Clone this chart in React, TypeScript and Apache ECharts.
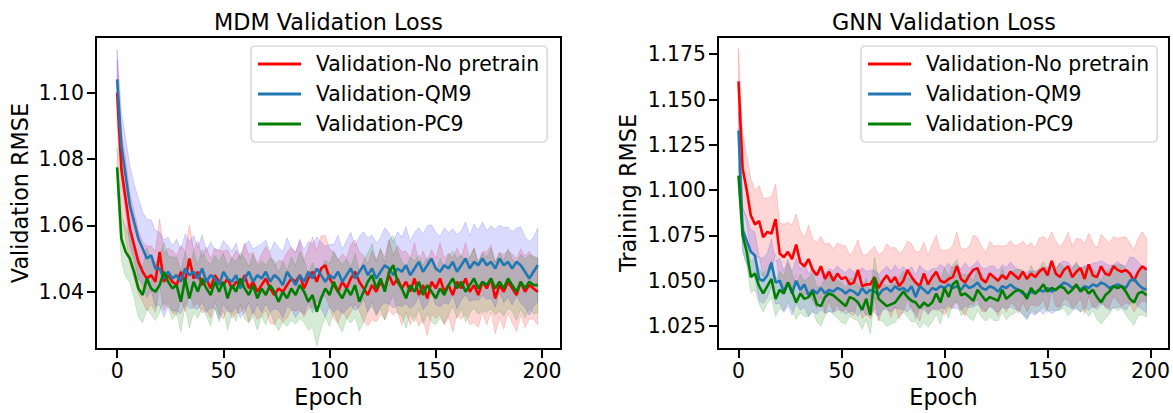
import React, { useEffect, useRef } from "react";
import * as echarts from "echarts";

const EPOCHS = [
  0, 2, 4, 6, 8, 10, 12, 14, 16, 18, 20, 22, 24, 26, 28, 30, 32, 34, 36, 38,
  40, 42, 44, 46, 48, 50, 52, 54, 56, 58, 60, 62, 64, 66, 68, 70, 72, 74, 76, 78,
  80, 82, 84, 86, 88, 90, 92, 94, 96, 98, 100, 102, 104, 106, 108, 110, 112, 114, 116, 118,
  120, 122, 124, 126, 128, 130, 132, 134, 136, 138, 140, 142, 144, 146, 148, 150, 152, 154, 156, 158,
  160, 162, 164, 166, 168, 170, 172, 174, 176, 178, 180, 182, 184, 186, 188, 190, 192, 194, 196, 198,
];

const MDM_RED = [
  1.100, 1.077, 1.068, 1.059, 1.054, 1.049, 1.046, 1.044, 1.045, 1.043,
  1.052, 1.043, 1.045, 1.043, 1.042, 1.046, 1.043, 1.050, 1.044, 1.046,
  1.042, 1.044, 1.041, 1.045, 1.043, 1.042, 1.044, 1.041, 1.043, 1.042,
  1.045, 1.041, 1.043, 1.040, 1.042, 1.044, 1.041, 1.039, 1.041, 1.040,
  1.042, 1.044, 1.043, 1.045, 1.041, 1.044, 1.046, 1.043, 1.047, 1.048,
  1.044, 1.042, 1.040, 1.043, 1.041, 1.044, 1.046, 1.043, 1.041, 1.039,
  1.042, 1.040, 1.043, 1.041, 1.045, 1.042, 1.044, 1.041, 1.043, 1.040,
  1.044, 1.039, 1.042, 1.038, 1.043, 1.041, 1.044, 1.040, 1.042, 1.039,
  1.043, 1.041, 1.044, 1.040, 1.042, 1.039, 1.043, 1.041, 1.044, 1.038,
  1.042, 1.040, 1.043, 1.041, 1.039, 1.043, 1.040, 1.042, 1.041, 1.040,
];
const MDM_BLUE = [
  1.104, 1.084, 1.075, 1.066, 1.061, 1.056, 1.053, 1.050, 1.051, 1.047,
  1.047, 1.044, 1.046, 1.044, 1.045, 1.043, 1.047, 1.045, 1.046, 1.044,
  1.047, 1.043, 1.045, 1.044, 1.042, 1.046, 1.044, 1.043, 1.045, 1.041,
  1.044, 1.046, 1.043, 1.045, 1.044, 1.046, 1.043, 1.045, 1.044, 1.042,
  1.046, 1.044, 1.042, 1.045, 1.043, 1.046, 1.044, 1.047, 1.045, 1.043,
  1.045, 1.044, 1.046, 1.043, 1.045, 1.047, 1.044, 1.046, 1.048, 1.045,
  1.047, 1.044, 1.046, 1.048, 1.047, 1.045, 1.047, 1.046, 1.048, 1.045,
  1.047, 1.049, 1.046, 1.048, 1.050, 1.047, 1.046, 1.048, 1.047, 1.049,
  1.046, 1.048, 1.050, 1.047, 1.049, 1.048, 1.050, 1.048, 1.049, 1.047,
  1.050, 1.048, 1.049, 1.047, 1.049, 1.048, 1.046, 1.044, 1.046, 1.048,
];
const MDM_GREEN = [
  1.0775, 1.056, 1.052, 1.050, 1.046, 1.041, 1.039, 1.044, 1.041, 1.040,
  1.042, 1.046, 1.043, 1.041, 1.042, 1.037, 1.044, 1.038, 1.043, 1.040,
  1.044, 1.041, 1.039, 1.043, 1.040, 1.043, 1.038, 1.042, 1.040, 1.044,
  1.041, 1.039, 1.042, 1.038, 1.041, 1.039, 1.042, 1.040, 1.037, 1.040,
  1.038, 1.041, 1.039, 1.042, 1.040, 1.037, 1.039, 1.034, 1.038, 1.041,
  1.039, 1.043, 1.040, 1.038, 1.041, 1.039, 1.042, 1.037, 1.040, 1.043,
  1.045, 1.041, 1.044, 1.040, 1.046, 1.048, 1.043, 1.041, 1.038, 1.042,
  1.040, 1.043, 1.039, 1.042, 1.040, 1.038, 1.041, 1.039, 1.042, 1.044,
  1.041, 1.043, 1.040, 1.042, 1.044, 1.041, 1.043, 1.042, 1.044, 1.041,
  1.043, 1.041, 1.044, 1.042, 1.040, 1.043, 1.041, 1.043, 1.042, 1.042,
];
const MDM_RED_SD = [
  0.0100, 0.0115, 0.0120, 0.0108, 0.0100, 0.0095, 0.0090, 0.0098, 0.0088, 0.0092,
  0.0100, 0.0087, 0.0082, 0.0094, 0.0089, 0.0080, 0.0091, 0.0102, 0.0085, 0.0093,
  0.0084, 0.0095, 0.0089, 0.0081, 0.0096, 0.0102, 0.0086, 0.0090, 0.0094, 0.0083,
  0.0097, 0.0101, 0.0088, 0.0084, 0.0093, 0.0096, 0.0104, 0.0089, 0.0085, 0.0092,
  0.0099, 0.0094, 0.0088, 0.0103, 0.0086, 0.0091, 0.0105, 0.0093, 0.0098, 0.0090,
  0.0087, 0.0101, 0.0095, 0.0084, 0.0092, 0.0103, 0.0096, 0.0089, 0.0100, 0.0093,
  0.0104, 0.0091, 0.0098, 0.0094, 0.0106, 0.0090, 0.0099, 0.0110, 0.0092, 0.0101,
  0.0108, 0.0094, 0.0103, 0.0112, 0.0097, 0.0091, 0.0109, 0.0100, 0.0096, 0.0111,
  0.0102, 0.0093, 0.0108, 0.0099, 0.0113, 0.0097, 0.0092, 0.0110, 0.0101, 0.0107,
  0.0098, 0.0112, 0.0094, 0.0104, 0.0110, 0.0099, 0.0108, 0.0102, 0.0093, 0.0100,
];
const MDM_BLUE_SD = [
  0.0090, 0.0100, 0.0112, 0.0120, 0.0114, 0.0121, 0.0110, 0.0118, 0.0107, 0.0115,
  0.0109, 0.0117, 0.0104, 0.0098, 0.0108, 0.0096, 0.0105, 0.0100, 0.0109, 0.0093,
  0.0101, 0.0092, 0.0099, 0.0088, 0.0103, 0.0094, 0.0100, 0.0091, 0.0097, 0.0089,
  0.0102, 0.0093, 0.0099, 0.0087, 0.0104, 0.0096, 0.0090, 0.0101, 0.0094, 0.0099,
  0.0103, 0.0092, 0.0098, 0.0108, 0.0097, 0.0091, 0.0104, 0.0095, 0.0100, 0.0106,
  0.0093, 0.0102, 0.0110, 0.0098, 0.0104, 0.0109, 0.0097, 0.0106, 0.0101, 0.0112,
  0.0100, 0.0108, 0.0103, 0.0113, 0.0107, 0.0099, 0.0111, 0.0104, 0.0115, 0.0101,
  0.0109, 0.0103, 0.0114, 0.0118, 0.0102, 0.0110, 0.0105, 0.0113, 0.0108, 0.0100,
  0.0112, 0.0104, 0.0110, 0.0099, 0.0114, 0.0106, 0.0111, 0.0103, 0.0109, 0.0117,
  0.0101, 0.0113, 0.0105, 0.0110, 0.0102, 0.0115, 0.0106, 0.0111, 0.0104, 0.0112,
];
const MDM_GREEN_SD = [
  0.0060, 0.0068, 0.0075, 0.0072, 0.0080, 0.0088, 0.0083, 0.0092, 0.0079, 0.0087,
  0.0082, 0.0090, 0.0078, 0.0094, 0.0085, 0.0091, 0.0080, 0.0089, 0.0093, 0.0081,
  0.0088, 0.0084, 0.0092, 0.0079, 0.0090, 0.0086, 0.0095, 0.0082, 0.0089, 0.0078,
  0.0091, 0.0085, 0.0093, 0.0096, 0.0083, 0.0090, 0.0081, 0.0094, 0.0087, 0.0092,
  0.0084, 0.0095, 0.0088, 0.0101, 0.0093, 0.0086, 0.0097, 0.0104, 0.0091, 0.0085,
  0.0094, 0.0089, 0.0098, 0.0102, 0.0090, 0.0084, 0.0096, 0.0088, 0.0093, 0.0087,
  0.0095, 0.0083, 0.0091, 0.0086, 0.0097, 0.0089, 0.0094, 0.0082, 0.0090, 0.0085,
  0.0092, 0.0080, 0.0088, 0.0084, 0.0093, 0.0079, 0.0090, 0.0086, 0.0091, 0.0083,
  0.0089, 0.0081, 0.0092, 0.0085, 0.0090, 0.0078, 0.0087, 0.0083, 0.0091, 0.0080,
  0.0088, 0.0084, 0.0090, 0.0079, 0.0086, 0.0082, 0.0089, 0.0081, 0.0087, 0.0083,
];

const GNN_RED = [
  1.160, 1.112, 1.100, 1.086, 1.081, 1.083, 1.074, 1.077, 1.076, 1.084,
  1.065, 1.063, 1.066, 1.062, 1.070, 1.060, 1.058, 1.062, 1.056, 1.053,
  1.058, 1.051, 1.055, 1.050, 1.054, 1.051, 1.052, 1.048, 1.049, 1.056,
  1.047, 1.048, 1.048, 1.052, 1.046, 1.050, 1.053, 1.049, 1.052, 1.047,
  1.050, 1.056, 1.052, 1.049, 1.047, 1.054, 1.048, 1.052, 1.055, 1.050,
  1.049, 1.051, 1.052, 1.058, 1.051, 1.049, 1.053, 1.056, 1.057, 1.051,
  1.049, 1.054, 1.052, 1.050, 1.053, 1.051, 1.055, 1.053, 1.051, 1.055,
  1.051, 1.054, 1.052, 1.055, 1.057, 1.053, 1.061, 1.054, 1.052, 1.056,
  1.058, 1.052, 1.055, 1.057, 1.051, 1.059, 1.053, 1.052, 1.058, 1.054,
  1.053, 1.058, 1.056, 1.055, 1.056, 1.054, 1.050, 1.055, 1.058, 1.056,
];
const GNN_BLUE = [
  1.133, 1.078, 1.072, 1.066, 1.064, 1.051, 1.050, 1.053, 1.060, 1.049,
  1.050, 1.044, 1.049, 1.043, 1.050, 1.045, 1.048, 1.042, 1.045, 1.043,
  1.046, 1.043, 1.045, 1.044, 1.046, 1.045, 1.043, 1.045, 1.044, 1.042,
  1.046, 1.043, 1.045, 1.044, 1.042, 1.045, 1.046, 1.044, 1.047, 1.045,
  1.046, 1.044, 1.047, 1.041, 1.047, 1.045, 1.043, 1.046, 1.045, 1.047,
  1.046, 1.048, 1.046, 1.047, 1.045, 1.048, 1.046, 1.047, 1.049, 1.046,
  1.045, 1.047, 1.046, 1.044, 1.047, 1.046, 1.048, 1.046, 1.045, 1.043,
  1.042, 1.044, 1.043, 1.045, 1.044, 1.046, 1.044, 1.045, 1.047, 1.049,
  1.048, 1.046, 1.047, 1.045, 1.047, 1.046, 1.048, 1.047, 1.049, 1.048,
  1.046, 1.047, 1.048, 1.047, 1.046, 1.050, 1.051, 1.048, 1.046, 1.045,
];
const GNN_GREEN = [
  1.108, 1.075, 1.066, 1.052, 1.054, 1.047, 1.043, 1.047, 1.051, 1.040,
  1.045, 1.043, 1.049, 1.044, 1.038, 1.043, 1.040, 1.041, 1.044, 1.037,
  1.036, 1.041, 1.043, 1.042, 1.040, 1.038, 1.036, 1.041, 1.040, 1.038,
  1.034, 1.040, 1.031, 1.052, 1.040, 1.038, 1.036, 1.037, 1.038, 1.041,
  1.044, 1.041, 1.039, 1.038, 1.035, 1.038, 1.036, 1.038, 1.043, 1.038,
  1.046, 1.041, 1.048, 1.050, 1.042, 1.043, 1.041, 1.039, 1.045, 1.042,
  1.039, 1.041, 1.040, 1.039, 1.045, 1.040, 1.042, 1.044, 1.045, 1.044,
  1.040, 1.046, 1.043, 1.045, 1.048, 1.044, 1.046, 1.045, 1.047, 1.046,
  1.043, 1.045, 1.048, 1.044, 1.046, 1.043, 1.045, 1.041, 1.038, 1.042,
  1.044, 1.047, 1.046, 1.047, 1.044, 1.040, 1.038, 1.043, 1.044, 1.042,
];
const GNN_RED_SD = [
  0.0180, 0.0198, 0.0190, 0.0205, 0.0188, 0.0196, 0.0215, 0.0187, 0.0203, 0.0192,
  0.0170, 0.0182, 0.0161, 0.0189, 0.0168, 0.0178, 0.0158, 0.0186, 0.0171, 0.0180,
  0.0166, 0.0190, 0.0159, 0.0176, 0.0169, 0.0188, 0.0172, 0.0160, 0.0181, 0.0167,
  0.0178, 0.0162, 0.0189, 0.0170, 0.0183, 0.0158, 0.0174, 0.0191, 0.0163, 0.0180,
  0.0171, 0.0160, 0.0184, 0.0168, 0.0192, 0.0173, 0.0159, 0.0182, 0.0201, 0.0169,
  0.0179, 0.0161, 0.0173, 0.0190, 0.0166, 0.0185, 0.0158, 0.0193, 0.0170, 0.0181,
  0.0162, 0.0178, 0.0169, 0.0195, 0.0160, 0.0184, 0.0172, 0.0163, 0.0190, 0.0168,
  0.0182, 0.0171, 0.0159, 0.0186, 0.0174, 0.0192, 0.0161, 0.0180, 0.0167, 0.0158,
  0.0188, 0.0170, 0.0183, 0.0162, 0.0194, 0.0172, 0.0181, 0.0160, 0.0176, 0.0189,
  0.0179, 0.0163, 0.0175, 0.0191, 0.0182, 0.0165, 0.0173, 0.0186, 0.0190, 0.0178,
];
const GNN_BLUE_SD = [
  0.0110, 0.0125, 0.0130, 0.0122, 0.0128, 0.0119, 0.0126, 0.0121, 0.0131, 0.0118,
  0.0124, 0.0115, 0.0127, 0.0119, 0.0123, 0.0112, 0.0125, 0.0117, 0.0121, 0.0113,
  0.0120, 0.0109, 0.0118, 0.0114, 0.0122, 0.0110, 0.0116, 0.0119, 0.0108, 0.0117,
  0.0113, 0.0121, 0.0110, 0.0118, 0.0114, 0.0109, 0.0120, 0.0112, 0.0117, 0.0106,
  0.0119, 0.0113, 0.0108, 0.0121, 0.0115, 0.0111, 0.0118, 0.0107, 0.0116, 0.0120,
  0.0112, 0.0117, 0.0110, 0.0123, 0.0114, 0.0119, 0.0108, 0.0116, 0.0121, 0.0113,
  0.0118, 0.0110, 0.0122, 0.0115, 0.0119, 0.0112, 0.0124, 0.0117, 0.0111, 0.0120,
  0.0127, 0.0116, 0.0121, 0.0113, 0.0125, 0.0118, 0.0122, 0.0114, 0.0128, 0.0119,
  0.0123, 0.0116, 0.0126, 0.0120, 0.0114, 0.0124, 0.0118, 0.0129, 0.0121, 0.0117,
  0.0125, 0.0119, 0.0127, 0.0115, 0.0122, 0.0130, 0.0118, 0.0124, 0.0120, 0.0126,
];
const GNN_GREEN_SD = [
  0.0070, 0.0078, 0.0072, 0.0085, 0.0092, 0.0098, 0.0104, 0.0095, 0.0101, 0.0097,
  0.0103, 0.0096, 0.0108, 0.0100, 0.0094, 0.0105, 0.0099, 0.0107, 0.0102, 0.0096,
  0.0109, 0.0101, 0.0097, 0.0106, 0.0103, 0.0110, 0.0098, 0.0104, 0.0111, 0.0100,
  0.0107, 0.0113, 0.0102, 0.0109, 0.0115, 0.0104, 0.0112, 0.0106, 0.0110, 0.0103,
  0.0114, 0.0108, 0.0117, 0.0105, 0.0112, 0.0109, 0.0116, 0.0107, 0.0113, 0.0119,
  0.0110, 0.0115, 0.0108, 0.0118, 0.0112, 0.0106, 0.0117, 0.0111, 0.0114, 0.0120,
  0.0113, 0.0109, 0.0118, 0.0112, 0.0121, 0.0115, 0.0110, 0.0119, 0.0113, 0.0122,
  0.0116, 0.0124, 0.0111, 0.0119, 0.0126, 0.0114, 0.0121, 0.0117, 0.0128, 0.0115,
  0.0122, 0.0118, 0.0125, 0.0113, 0.0120, 0.0127, 0.0116, 0.0123, 0.0119, 0.0130,
  0.0124, 0.0117, 0.0126, 0.0121, 0.0129, 0.0118, 0.0125, 0.0122, 0.0127, 0.0120,
];

const X_TICKS = [0, 50, 100, 150, 200];
const MDM_Y_TICKS = [1.04, 1.06, 1.08, 1.1];
const GNN_Y_TICKS = [1.025, 1.05, 1.075, 1.1, 1.125, 1.15, 1.175];
const SERIES_NAMES = ["Validation-No pretrain", "Validation-QM9", "Validation-PC9"];
const PANEL_TITLES = ["MDM Validation Loss", "GNN Validation Loss"];
const Y_NAMES = ["Validation RMSE", "Training RMSE"];

const LINE_COLORS = ["#ff0000", "#1f77b4", "#008000"];
const BAND_COLORS = ["rgba(255,0,0,0.16)", "rgba(0,0,255,0.14)", "rgba(0,128,0,0.16)"];
const FONT = "DejaVu Sans";

const PANELS = [
  { means: [MDM_RED, MDM_BLUE, MDM_GREEN], sds: [MDM_RED_SD, MDM_BLUE_SD, MDM_GREEN_SD], ticks: MDM_Y_TICKS, digits: 2, min: 1.0227, max: 1.1168 },
  { means: [GNN_RED, GNN_BLUE, GNN_GREEN], sds: [GNN_RED_SD, GNN_BLUE_SD, GNN_GREEN_SD], ticks: GNN_Y_TICKS, digits: 3, min: 1.0123, max: 1.1845 },
];

const GRIDS = [
  { left: 96, top: 37, width: 465, height: 316 },
  { left: 718, top: 37, width: 452, height: 316 },
];

function bandSeries(panel: number, k: number) {
  const mean = PANELS[panel].means[k];
  const sd = PANELS[panel].sds[k];
  const data = EPOCHS.map((e, i) => [e, mean[i] - sd[i], mean[i] + sd[i]]);
  const color = BAND_COLORS[k];
  return {
    type: "custom",
    name: `band-${panel}-${k}`,
    xAxisIndex: panel,
    yAxisIndex: panel,
    data,
    silent: true,
    z: 1,
    encode: { x: 0, y: [1, 2] },
    renderItem: (params: any, api: any) => {
      if (params.dataIndex !== 0) return null;
      const upper = data.map((d) => api.coord([d[0], d[2]]));
      const lower = data.map((d) => api.coord([d[0], d[1]])).reverse();
      return {
        type: "polygon",
        shape: { points: upper.concat(lower) },
        style: { fill: color, stroke: color, lineWidth: 1 },
      };
    },
  };
}

function lineSeries(panel: number, k: number) {
  const mean = PANELS[panel].means[k];
  return {
    type: "line",
    name: SERIES_NAMES[k],
    xAxisIndex: panel,
    yAxisIndex: panel,
    data: EPOCHS.map((e, i) => [e, mean[i]]),
    symbol: "none",
    showSymbol: false,
    silent: true,
    color: LINE_COLORS[k],
    itemStyle: { color: LINE_COLORS[k] },
    lineStyle: { color: LINE_COLORS[k], width: 2.6 },
    z: 3 + k,
  };
}

function buildOption() {
  const series: any[] = [];
  [0, 1].forEach((p) => {
    [0, 1, 2].forEach((k) => series.push(bandSeries(p, k)));
    [0, 1, 2].forEach((k) => series.push(lineSeries(p, k)));
  });
  const tickStyle = { color: "#000", width: 2 };
  const labelStyle = { fontFamily: FONT, fontSize: 20.4, color: "#000" };
  const nameStyle = { fontFamily: FONT, fontSize: 22.3, color: "#000" };
  return {
    animation: false,
    backgroundColor: "#ffffff",
    grid: GRIDS.map((g) => ({ ...g, show: true, borderColor: "#000", borderWidth: 2, backgroundColor: "transparent", containLabel: false })),
    xAxis: [0, 1].map((p) => ({
      type: "value",
      gridIndex: p,
      min: -9.95,
      max: 208.95,
      name: "Epoch",
      nameLocation: "middle",
      nameGap: 34,
      nameTextStyle: nameStyle,
      axisLine: { show: false, onZero: false },
      splitLine: { show: false },
      axisTick: { show: true, customValues: X_TICKS, length: 9, lineStyle: tickStyle },
      axisLabel: { customValues: X_TICKS, margin: 12, ...labelStyle, formatter: (v: number) => String(v) },
    })),
    yAxis: [0, 1].map((p) => ({
      type: "value",
      gridIndex: p,
      min: PANELS[p].min,
      max: PANELS[p].max,
      name: Y_NAMES[p],
      nameLocation: "middle",
      nameGap: p === 0 ? 65 : 79,
      nameTextStyle: nameStyle,
      axisLine: { show: false, onZero: false },
      splitLine: { show: false },
      axisTick: { show: true, customValues: PANELS[p].ticks, length: 9, lineStyle: tickStyle },
      axisLabel: { customValues: PANELS[p].ticks, margin: 12, ...labelStyle, formatter: (v: number) => v.toFixed(PANELS[p].digits) },
    })),
    legend: [251, 861].map((left) => ({
      data: SERIES_NAMES,
      orient: "vertical",
      left,
      top: 46,
      icon: "rect",
      itemWidth: 43,
      itemHeight: 3,
      itemGap: 8,
      padding: [7, 8, 7, 7],
      borderColor: "#cccccc",
      borderWidth: 1.2,
      borderRadius: 4,
      backgroundColor: "rgba(255,255,255,0.8)",
      selectedMode: false,
      textStyle: { fontFamily: FONT, fontSize: 20.4, color: "#000", lineHeight: 22, padding: [0, 0, 0, 10] },
    })),
    graphic: PANEL_TITLES.map((t, p) => ({
      type: "text",
      x: GRIDS[p].left + GRIDS[p].width / 2,
      y: 22,
      style: {
        text: t,
        fontFamily: FONT,
        fontSize: 22.3,
        fill: "#000",
        align: "center",
        verticalAlign: "middle",
        textAlign: "center",
        textVerticalAlign: "middle",
      },
    })),
    series,
  };
}

export default function App() {
  const ref = useRef<HTMLDivElement>(null);
  useEffect(() => {
    if (!ref.current) return;
    const chart = echarts.init(ref.current, null, { renderer: "svg", width: 1173, height: 413 });
    chart.setOption(buildOption() as any);
    return () => chart.dispose();
  }, []);
  return (
    <div
      ref={ref}
      style={{ position: "fixed", left: 0, top: 0, width: 1173, height: 413, background: "#fff" }}
    />
  );
}
